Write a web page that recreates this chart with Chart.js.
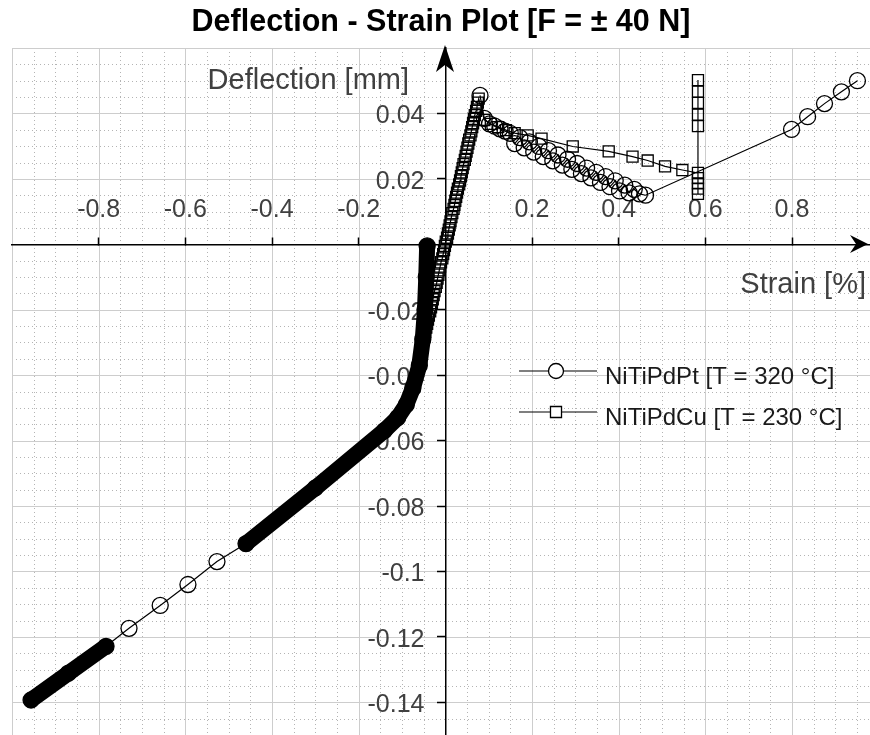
<!DOCTYPE html>
<html>
<head>
<meta charset="utf-8">
<title>Deflection - Strain Plot</title>
<script src="https://cdn.jsdelivr.net/npm/chart.js@4.4.1/dist/chart.umd.min.js"></script>
<style>
  html, body { margin: 0; padding: 0; background: #fff; }
  #wrap { width: 870px; height: 735px; position: relative; }
</style>
</head>
<body>
<div id="wrap"><canvas id="plot"></canvas></div>
<script>
const FONT = "'Liberation Sans', Arial, Helvetica, sans-serif";

const plotTitle = "Deflection - Strain Plot [F = \u00B1 40 N]";
const xAxisTitle = "Strain [%]";
const yAxisTitle = "Deflection [mm]";
const seriesNames = ["NiTiPdPt [T = 320 \u00B0C]", "NiTiPdCu [T = 230 \u00B0C]"];

const xTickValues = [-0.8, -0.6, -0.4, -0.2, 0.2, 0.4, 0.6, 0.8];
const xTickLabels = ["-0.8", "-0.6", "-0.4", "-0.2", "0.2", "0.4", "0.6", "0.8"];
const yTickValues = [0.04, 0.02, -0.02, -0.04, -0.06, -0.08, -0.1, -0.12, -0.14];
const yTickLabels = ["0.04", "0.02", "-0.02", "-0.04", "-0.06", "-0.08", "-0.1", "-0.12", "-0.14"];

// NiTiPdPt: compressive branch, bottom-left up to the origin
const ptStrainLow = [-0.956, -0.870, -0.783, -0.730, -0.658, -0.594, -0.527, -0.460, -0.300,
    -0.141, -0.110, -0.090, -0.075, -0.060, -0.052, -0.047, -0.044, -0.042];
const ptDeflLow = [-0.1393, -0.1311, -0.1229, -0.1174, -0.1104, -0.1040, -0.0970, -0.0915, -0.0745,
    -0.0570, -0.0530, -0.0490, -0.0440, -0.0370, -0.0290, -0.0200, -0.0100, -0.0005];
// index runs of the branch above where the markers pack into a solid trace
const ptDenseRuns = [[0, 2], [7, 17]];

// NiTiPdPt: peak, unloading band, tensile end
const ptStrainHigh = [0.080, 0.090, 0.102, 0.114, 0.126, 0.138, 0.150, 0.160, 0.172, 0.182,
    0.194, 0.204, 0.216, 0.226, 0.238, 0.248, 0.260, 0.270, 0.282, 0.292,
    0.304, 0.314, 0.326, 0.336, 0.348, 0.358, 0.370, 0.380, 0.392, 0.402,
    0.414, 0.424, 0.436, 0.448, 0.462, 0.799, 0.836, 0.875, 0.914, 0.951];
const ptDeflHigh = [0.0455, 0.0385, 0.0368, 0.0361, 0.0353, 0.0346, 0.0339, 0.0308, 0.0326, 0.0295,
    0.0313, 0.0282, 0.0299, 0.0268, 0.0286, 0.0255, 0.0273, 0.0242, 0.0260, 0.0229,
    0.0247, 0.0216, 0.0233, 0.0203, 0.0220, 0.0189, 0.0207, 0.0176, 0.0194, 0.0163,
    0.0181, 0.0157, 0.0168, 0.0154, 0.0150, 0.0351, 0.0390, 0.0430, 0.0466, 0.0500];

// NiTiPdCu: steep loading run up to the peak
const cuStrainUp = [-0.048, -0.046, -0.044, -0.042, -0.040, -0.038, -0.035, -0.033, -0.031, -0.029,
    -0.027, -0.025, -0.022, -0.020, -0.018, -0.016, -0.014, -0.012, -0.010, -0.007,
    -0.005, -0.003, -0.001, 0.001, 0.004, 0.006, 0.008, 0.010, 0.012, 0.014,
    0.016, 0.019, 0.021, 0.023, 0.025, 0.027, 0.029, 0.032, 0.034, 0.036,
    0.038, 0.040, 0.042, 0.045, 0.047, 0.049, 0.051, 0.053, 0.055, 0.058,
    0.060, 0.062, 0.064, 0.066, 0.068, 0.071, 0.073, 0.075, 0.077];
const cuDeflUp = [-0.0280, -0.0268, -0.0255, -0.0243, -0.0230, -0.0218, -0.0205, -0.0193, -0.0180, -0.0168,
    -0.0155, -0.0143, -0.0130, -0.0118, -0.0105, -0.0093, -0.0080, -0.0068, -0.0055, -0.0043,
    -0.0030, -0.0018, -0.0005, 0.0008, 0.0020, 0.0033, 0.0045, 0.0058, 0.0070, 0.0083,
    0.0095, 0.0108, 0.0120, 0.0133, 0.0145, 0.0158, 0.0170, 0.0183, 0.0195, 0.0208,
    0.0220, 0.0233, 0.0245, 0.0258, 0.0270, 0.0283, 0.0295, 0.0308, 0.0320, 0.0333,
    0.0345, 0.0358, 0.0370, 0.0383, 0.0395, 0.0408, 0.0420, 0.0433, 0.0445];

// NiTiPdCu: unloading run and the column at 0.58 %
const cuStrainDown = [0.090, 0.105, 0.122, 0.140, 0.160, 0.190, 0.222, 0.294, 0.377, 0.432,
    0.467, 0.507, 0.547, 0.583, 0.583, 0.583, 0.583, 0.583, 0.583, 0.583,
    0.583, 0.583, 0.583];
const cuDeflDown = [0.0380, 0.0368, 0.0358, 0.0349, 0.0340, 0.0333, 0.0323, 0.0299, 0.0284, 0.0268,
    0.0256, 0.0238, 0.0227, 0.0218, 0.0202, 0.0186, 0.0170, 0.0154, 0.0361, 0.0396,
    0.0432, 0.0467, 0.0502];

const toPoints = (xs, ys) => xs.map((x, i) => ({ x: x, y: ys[i] }));
const gap = { x: 0, y: null };

const ptLow = toPoints(ptStrainLow, ptDeflLow);
const ptHigh = toPoints(ptStrainHigh, ptDeflHigh);
const ptData = ptLow.concat([gap], ptHigh);
const cuData = toPoints(cuStrainUp, cuDeflUp).concat(toPoints(cuStrainDown, cuDeflDown));

const bandData = [];
ptDenseRuns.forEach((run, k) => {
    if (k > 0) bandData.push(gap);
    for (let i = run[0]; i <= run[1]; i++) bandData.push(ptLow[i]);
});

// axes sit inside the plot, so they must not push the plot area in
const noAxisPadding = (scale) => {
    scale.paddingTop = 0;
    scale.paddingBottom = 0;
    scale.paddingLeft = 0;
    scale.paddingRight = 0;
};

// MATLAB-like background grid: solid major lines, dotted minor lines
const gridPlugin = {
    id: "matlabGrid",
    beforeDraw(chart) {
        const { ctx, chartArea: a, scales } = chart;
        const sx = scales.x, sy = scales.y;
        ctx.save();
        ctx.fillStyle = "#fff";
        ctx.fillRect(0, 0, chart.width, chart.height);
        ctx.beginPath();
        ctx.rect(a.left, a.top, a.right - a.left, a.bottom - a.top);
        ctx.clip();

        const vLines = (step) => {
            const out = [];
            for (let k = 0; ; k++) {
                const v = sx.min + k * step;
                if (v > sx.max + 1e-9) break;
                out.push(Math.round(sx.getPixelForValue(v)) + 0.5);
            }
            return out;
        };
        const hLines = (step) => {
            const out = [];
            for (let k = 0; ; k++) {
                const v = sy.max - k * step;
                if (v < sy.min - 1e-9) break;
                out.push(Math.round(sy.getPixelForValue(v)) + 0.5);
            }
            return out;
        };

        ctx.lineWidth = 1;
        ctx.strokeStyle = "#b4b4b4";
        ctx.setLineDash([1, 3]);
        ctx.beginPath();
        vLines(0.05).forEach(p => { ctx.moveTo(p, a.top); ctx.lineTo(p, a.bottom); });
        hLines(0.005).forEach(p => { ctx.moveTo(a.left, p); ctx.lineTo(a.right, p); });
        ctx.stroke();

        ctx.setLineDash([]);
        ctx.strokeStyle = "#cdcdcd";
        ctx.beginPath();
        vLines(0.2).forEach(p => { ctx.moveTo(p, a.top); ctx.lineTo(p, a.bottom); });
        hLines(0.02).forEach(p => { ctx.moveTo(a.left, p); ctx.lineTo(a.right, p); });
        ctx.stroke();
        ctx.restore();
    }
};

// arrow heads, axis names and the inset legend
const overlayPlugin = {
    id: "overlay",
    afterDraw(chart) {
        const { ctx, chartArea: a, scales } = chart;
        const x0 = Math.round(scales.x.getPixelForValue(0));
        const y0 = Math.round(scales.y.getPixelForValue(0));
        ctx.save();
        ctx.fillStyle = "#000";

        ctx.beginPath();
        ctx.moveTo(x0, a.top - 3);
        ctx.lineTo(x0 - 9, a.top + 24);
        ctx.lineTo(x0, a.top + 17);
        ctx.lineTo(x0 + 9, a.top + 24);
        ctx.closePath();
        ctx.fill();

        ctx.beginPath();
        ctx.moveTo(a.right - 2, y0);
        ctx.lineTo(a.right - 20, y0 - 9);
        ctx.lineTo(a.right - 14, y0);
        ctx.lineTo(a.right - 20, y0 + 9);
        ctx.closePath();
        ctx.fill();

        ctx.fillStyle = "#404040";
        ctx.font = "29px " + FONT;
        ctx.textAlign = "right";
        ctx.textBaseline = "middle";
        ctx.fillText(yAxisTitle, x0 - 36, 81);
        ctx.fillText(xAxisTitle, a.right - 4, y0 + 41);

        const rows = [371, 412];
        chart.data.datasets.slice(0, 2).forEach((ds, i) => {
            const y = rows[i];
            ctx.strokeStyle = "#000";
            ctx.lineWidth = 1.2;
            ctx.beginPath();
            ctx.moveTo(519, y);
            ctx.lineTo(597, y);
            ctx.stroke();
            ctx.lineWidth = ds.pointBorderWidth;
            ctx.beginPath();
            if (ds.pointStyle === "rect") {
                const h = ds.pointRadius * Math.SQRT1_2;
                ctx.rect(556 - h, y - h, 2 * h, 2 * h);
            } else {
                ctx.arc(556, y, ds.pointRadius - 0.5, 0, Math.PI * 2);
            }
            ctx.fillStyle = "#fff";
            ctx.fill();
            ctx.stroke();
            ctx.fillStyle = "#1a1a1a";
            ctx.font = "24px " + FONT;
            ctx.textAlign = "left";
            ctx.textBaseline = "middle";
            ctx.fillText(ds.label, 605, y + 6);
        });
        ctx.restore();
    }
};

const tickFont = { family: FONT, size: 25 };

new Chart(document.getElementById("plot"), {
    type: "scatter",
    data: {
        datasets: [
            {
                label: seriesNames[0],
                data: ptData,
                showLine: true,
                spanGaps: false,
                borderColor: "#000",
                borderWidth: 1.2,
                pointStyle: "circle",
                pointRadius: 8,
                pointBorderWidth: 1.3,
                pointBorderColor: "#000",
                pointBackgroundColor: "rgba(0,0,0,0)",
                tension: 0
            },
            {
                label: seriesNames[1],
                data: cuData,
                showLine: true,
                borderColor: "#000",
                borderWidth: 1.2,
                pointStyle: "rect",
                pointRadius: 7.8,
                pointBorderWidth: 1.3,
                pointBorderColor: "#000",
                pointBackgroundColor: "rgba(0,0,0,0)",
                tension: 0
            },
            {
                label: "",
                data: bandData,
                showLine: true,
                spanGaps: false,
                borderColor: "#000",
                borderWidth: 16,
                borderCapStyle: "round",
                borderJoinStyle: "round",
                pointRadius: 0,
                tension: 0
            }
        ]
    },
    options: {
        responsive: true,
        maintainAspectRatio: false,
        animation: false,
        events: [],
        layout: { autoPadding: false, padding: { left: 12, right: 0, top: 0, bottom: 0 } },
        plugins: {
            legend: { display: false },
            tooltip: { enabled: false },
            title: {
                display: true,
                text: plotTitle,
                color: "#000",
                font: { family: FONT, size: 30.5, weight: "bold" },
                padding: { top: 4, bottom: 7.4 }
            }
        },
        scales: {
            x: {
                type: "linear",
                position: { y: 0 },
                min: -1,
                max: 0.98,
                afterBuildTicks: (scale) => { scale.ticks = xTickValues.map(v => ({ value: v })); },
                afterFit: noAxisPadding,
                ticks: {
                    callback: (value, index) => xTickLabels[index],
                    font: tickFont,
                    color: "#404040",
                    padding: -41,
                    maxRotation: 0,
                    autoSkip: false
                },
                grid: { drawOnChartArea: false, drawTicks: true, tickLength: -8, tickColor: "#000", tickWidth: 1.5 },
                border: { display: true, color: "#000", width: 1.5 }
            },
            y: {
                type: "linear",
                position: { x: 0 },
                min: -0.15,
                max: 0.06,
                afterBuildTicks: (scale) => { scale.ticks = yTickValues.map(v => ({ value: v })); },
                afterFit: noAxisPadding,
                ticks: {
                    // labels of an axis placed at x = 0 are anchored on the axis line; pad them off it
                    callback: (value, index) => yTickLabels[index] + "   ",
                    font: tickFont,
                    color: "#404040",
                    labelOffset: 3,
                    autoSkip: false
                },
                grid: { drawOnChartArea: false, drawTicks: true, tickLength: 8, tickColor: "#000", tickWidth: 1.5 },
                border: { display: true, color: "#000", width: 1.5 }
            }
        }
    },
    plugins: [gridPlugin, overlayPlugin]
});
</script>
</body>
</html>
